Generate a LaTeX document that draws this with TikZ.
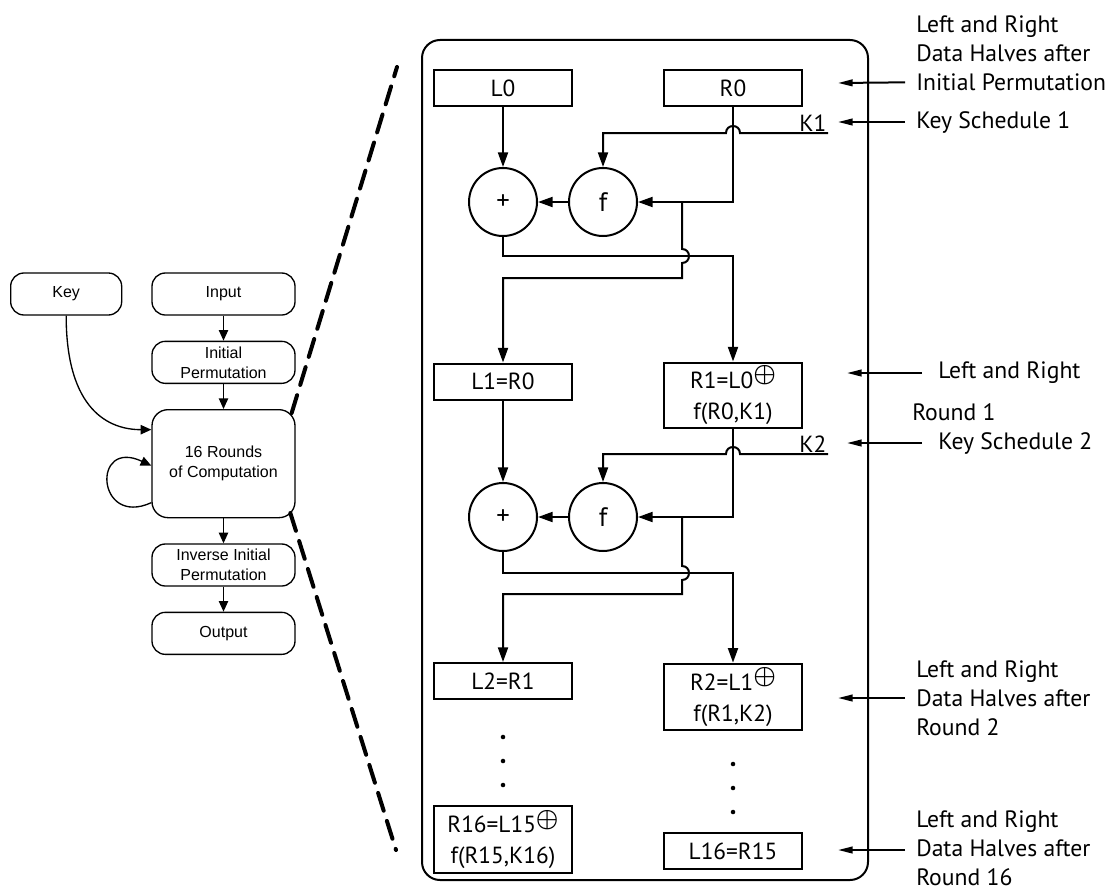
\documentclass[tikz,border=0pt]{standalone}
\usepackage{fontspec}
\setmainfont{PT Sans}
\newfontfamily\arialfont{Liberation Sans}
\usetikzlibrary{arrows.meta,positioning}
\newcommand\oplusmark{\raisebox{5pt}{\scalebox{1.1}{$\boldsymbol{\oplus}$}}}
\usepackage{amsmath}
\tikzset{
  flowbox/.style={draw, rounded corners=10pt, align=center, minimum width=107.25pt, minimum height=31.5pt, inner ysep=1pt, line width=1pt, font=\arialfont\fontsize{12}{15}\selectfont},
  regbox/.style={draw, line width=1.5pt, align=center, minimum width=103.5pt, minimum height=27pt, inner sep=2pt, font=\fontsize{17.5}{23}\selectfont},
  opnode/.style={draw, circle, line width=1.5pt, minimum size=51pt, inner sep=0pt, font=\fontsize{20}{22}\selectfont},
  sidenote/.style={align=left, anchor=west, inner sep=0pt, font=\fontsize{17.75}{21.75}\selectfont},
  dsarrow/.style={-{Triangle[length=11pt,width=7.5pt]}, line width=1.5pt},
  flowarrow/.style={-{Triangle[length=8pt,width=7pt]}, line width=1pt},
  notearrow/.style={-{Triangle[length=11pt,width=5pt]}, line width=1.5pt},
  zoomline/.style={line width=3pt, dash pattern=on 14pt off 8pt, line cap=round}
}
\begin{document}
\begin{tikzpicture}[x=0.75pt, y=-0.75pt]
\useasboundingbox (0,0) rectangle (1119,892);
% overall flow
\node[flowbox] (input) at (223.5,294) {Input};
\node[flowbox, minimum width=83.25pt, left=21.75pt of input] (key) {Key};
\node[flowbox, below=18.75pt of input] (initperm) {Initial\\Permutation};
\node[flowbox, below=18.75pt of initperm, minimum height=81pt, rounded corners=12pt] (rounds) {16 Rounds\\of Computation};
\node[flowbox, below=18.75pt of rounds] (invperm) {Inverse Initial\\Permutation};
\node[flowbox, below=18.75pt of invperm] (output) {Output};
\draw[flowarrow] (input) -- (initperm);
\draw[flowarrow] (initperm) -- (rounds);
\draw[flowarrow] (rounds) -- (invperm);
\draw[flowarrow] (invperm) -- (output);
\draw[flowarrow] (key.south) .. controls +(0,95) and +(-42,0) .. ([yshift=25.5pt]rounds.west);
\draw[flowarrow] ([yshift=-29.25pt]rounds.west) .. controls +(-55,25) and +(-60,-28) .. ([yshift=-1.5pt]rounds.west);
% zoomed rounds
\node[draw, line width=1.5pt, rounded corners=13.5pt, minimum width=334.5pt, minimum height=630pt] (rounddetail) at (645,460) {};
\draw[zoomline] ([xshift=-3pt,yshift=-3pt]rounds.north east) -- (397,67);
\draw[zoomline] ([xshift=-4pt,yshift=4pt]rounds.south east) -- (396,850);
\node[regbox] (L0) at (503,88) {L0};
\node[regbox] (R0) at (733,88) {R0};
\node[opnode] (xor1) at (503,202) {+};
\node[opnode] (f1) at (603,202) {f};
\node[regbox] (L1) at (503,381.5) {L1=R0};
\node[regbox, minimum height=48.75pt] (R1) at (733,395) {R1=L0\oplusmark\\f(R0,K1)};
\node[opnode] (xor2) at (503,517) {+};
\node[opnode] (f2) at (603,517) {f};
\node[regbox] (L2) at (503,681) {L2=R1};
\node[regbox, minimum height=50pt] (R2) at (733,697) {R2=L1\oplusmark\\f(R1,K2)};
\node[regbox, minimum height=50pt] (R16) at (503,839.5) {R16=L15\oplusmark\\f(R15,K16)};
\node[regbox] (L16) at (733,851) {L16=R15};
% round 1
\coordinate (k1in) at (828,133);
\coordinate (br1) at (682,202);
\node[anchor=south east, inner sep=1pt, font=\fontsize{17.5}{20}\selectfont] (k1lab) at (k1in) {K1};
\draw[dsarrow] (L0) -- (xor1);
\draw[dsarrow] (f1) -- (xor1);
\draw[dsarrow] (R0.south) |- (f1.east);
\draw[dsarrow] (k1in) -- (740,133) .. controls (740,123.7) and (726,123.7) .. (726,133) -- (f1.north |- k1in) -- (f1.north);
\draw[dsarrow] (br1) -- (682,249) .. controls (691.3,249) and (691.3,263) .. (682,263) -- (682,278) -| (L1.north);
\draw[dsarrow] (xor1.south) |- (733,256) -- (R1.north);
% round 2
\coordinate (k2in) at (828,454);
\coordinate (br2) at (682,517);
\node[anchor=south east, inner sep=1pt, font=\fontsize{17.5}{20}\selectfont] (k2lab) at (k2in) {K2};
\draw[dsarrow] (L1) -- (xor2);
\draw[dsarrow] (f2) -- (xor2);
\draw[dsarrow] (R1.south) |- (f2.east);
\draw[dsarrow] (k2in) -- (740,454) .. controls (740,444.7) and (726,444.7) .. (726,454) -- (f2.north |- k2in) -- (f2.north);
\draw[dsarrow] (br2) -- (682,566) .. controls (691.3,566) and (691.3,580) .. (682,580) -- (682,594) -| (L2.north);
\draw[dsarrow] (xor2.south) |- (733,573) -- (R2.north);
\foreach \y in {737,761,785} \fill (503,\y) circle (1.7pt);
\foreach \y in {764,788,812} \fill (733,\y) circle (1.7pt);
% side notes
\node[sidenote] (noteip) at (916,53) {Left and Right\\Data Halves after\\Initial Permutation};
\node[sidenote] (noteks1) at (916,122) {Key Schedule 1};
\node[sidenote] (noter1) at (938,373) {Left and Right};
\node[sidenote] (noter1b) at (912,412) {Round 1};
\node[sidenote] (noteks2) at (938,443) {Key Schedule 2};
\node[sidenote] (noter2) at (916,698) {Left and Right\\Data Halves after\\Round 2};
\node[sidenote] (noter16) at (916,848) {Left and Right\\Data Halves after\\Round 16};
\coordinate (tipip) at (838,83);
\coordinate (tipks1) at (838,122);
\coordinate (tipr1) at (847,373);
\coordinate (tipks2) at (847,443);
\coordinate (tipr2) at (838,698);
\coordinate (tipr16) at (838,850);
\draw[notearrow] ([xshift=-8.25pt,yshift=-22pt]noteip.west) -- (tipip);
\draw[notearrow] ([xshift=-8.25pt]noteks1.west) -- (tipks1);
\draw[notearrow] ([xshift=-12pt]noter1.west) -- (tipr1);
\draw[notearrow] ([xshift=-12pt]noteks2.west) -- (tipks2);
\draw[notearrow] ([xshift=-8.25pt]noter2.west) -- (tipr2);
\draw[notearrow] ([xshift=-8.25pt,yshift=-1.5pt]noter16.west) -- (tipr16);
\end{tikzpicture}
\end{document}
